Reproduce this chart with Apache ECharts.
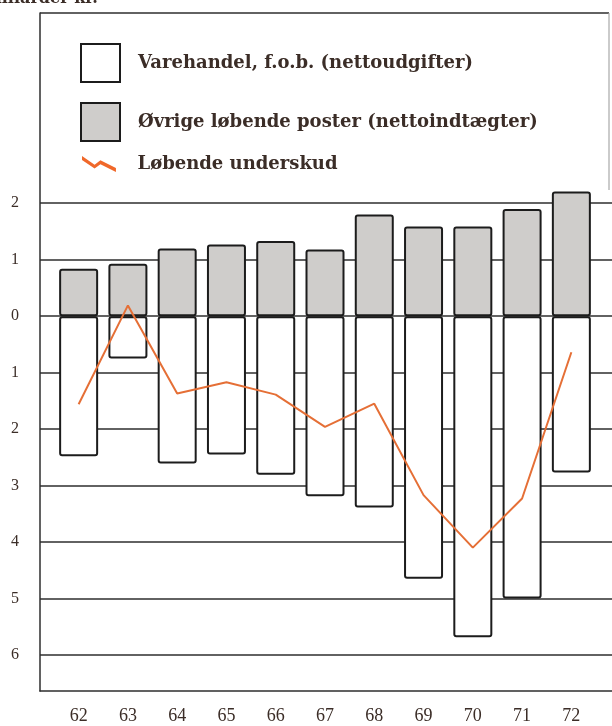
<!DOCTYPE html>
<html lang="da">
<head>
<meta charset="utf-8">
<title>Betalingsbalance</title>
<script src="https://cdn.jsdelivr.net/npm/echarts@6/dist/echarts.min.js"></script>
<style>
  html, body { margin: 0; padding: 0; background: #fff; }
  #chart { width: 612px; height: 726px; }
</style>
</head>
<body>
<div id="chart"></div>
<script>
// aflæste værdier, milliarder kr.
var years = ['62', '63', '64', '65', '66', '67', '68', '69', '70', '71', '72'];
var varehandel = [-2.48, -0.75, -2.61, -2.45, -2.81, -3.19, -3.39, -4.65, -5.69, -5.00, -2.77];
var ovrige = [0.84, 0.93, 1.20, 1.27, 1.33, 1.18, 1.80, 1.59, 1.59, 1.90, 2.21];
var underskud = [-1.56, 0.19, -1.37, -1.17, -1.39, -1.96, -1.55, -3.17, -4.10, -3.23, -0.64];
var yTicks = [2, 1, 0, -1, -2, -3, -4, -5, -6];

var Y_MIN = -6.64, Y_MAX = 5.37;
var ink = '#2e2e2e';
var textCol = '#3b2d27';
var serif = '"Liberation Serif", "DejaVu Serif", serif';
var boldSerif = '"DejaVu Serif", serif';

var chart = echarts.init(document.getElementById('chart'));

chart.setOption({
  animation: false,
  backgroundColor: '#fff',
  // grid 0: ramme, gitterlinjer og y-tal; grid 1: søjlerne
  grid: [
    { left: 40, right: 0, top: 13, bottom: 35 },
    { left: 54, right: 16, top: 13, bottom: 35 }
  ],
  legend: [
    {
      orient: 'vertical',
      left: 80,
      top: 43,
      padding: 0,
      itemWidth: 39,
      itemHeight: 38,
      itemGap: 19,
      data: [
        { name: 'Varehandel, f.o.b. (nettoudgifter)', icon: 'rect' },
        { name: 'Øvrige løbende poster (nettoindtægter)', icon: 'rect' }
      ],
      textStyle: { fontFamily: boldSerif, fontWeight: 'bold', fontSize: 18, color: textCol, padding: [0, 0, 0, 13] }
    },
    {
      left: 82,
      top: 155,
      padding: 0,
      itemWidth: 35,
      itemHeight: 16,
      data: [{
        name: 'Løbende underskud',
        icon: 'path://M0,0 L13,9 L19,4.5 L35,12.5 L35,16.5 L19,8.5 L13,13 L0,4 Z'
      }],
      textStyle: { fontFamily: boldSerif, fontWeight: 'bold', fontSize: 18, color: textCol, padding: [0, 0, 0, 16] }
    }
  ],
  graphic: [
    {
      type: 'text',
      left: -22,
      top: -9,
      style: { text: 'Milliarder kr.', font: 'bold 16px ' + boldSerif, fill: textCol }
    },
    {
      type: 'line',
      shape: { x1: 40, y1: 13, x2: 609, y2: 13 },
      style: { stroke: ink, lineWidth: 1.5 }
    },
    {
      type: 'line',
      shape: { x1: 609, y1: 13, x2: 609, y2: 190 },
      style: { stroke: '#a8a8a8', lineWidth: 1.2 }
    }
  ],
  xAxis: [
    {
      type: 'value',
      gridIndex: 0,
      min: 0,
      max: 1,
      axisLine: { show: true, onZero: false, lineStyle: { color: ink, width: 1.5 } },
      axisTick: { show: false },
      axisLabel: { show: false },
      splitLine: { show: false }
    },
    {
      type: 'category',
      gridIndex: 1,
      data: years,
      axisLine: { show: false },
      axisTick: { show: false },
      axisLabel: { margin: 16, fontFamily: serif, fontSize: 18, color: textCol }
    }
  ],
  yAxis: [
    {
      type: 'value',
      gridIndex: 0,
      min: Y_MIN,
      max: Y_MAX,
      axisLine: { show: true, onZero: false, lineStyle: { color: ink, width: 1.5 } },
      axisTick: { show: false, customValues: yTicks },
      axisLabel: {
        customValues: yTicks,
        margin: 25,
        align: 'center',
        fontFamily: serif,
        fontSize: 16,
        color: textCol,
        formatter: function (v) { return String(Math.abs(v)); }
      },
      splitLine: { show: true, lineStyle: { color: ink, width: 1.5 } }
    },
    {
      type: 'value',
      gridIndex: 1,
      min: Y_MIN,
      max: Y_MAX,
      show: false,
      splitLine: { show: false }
    }
  ],
  series: [
    {
      name: 'Varehandel, f.o.b. (nettoudgifter)',
      type: 'bar',
      xAxisIndex: 1,
      yAxisIndex: 1,
      data: varehandel,
      barWidth: 39,
      barGap: '-100%',
      clip: false,
      itemStyle: { color: '#ffffff', borderColor: '#1c1c1c', borderWidth: 2, borderRadius: 2 }
    },
    {
      name: 'Øvrige løbende poster (nettoindtægter)',
      type: 'bar',
      xAxisIndex: 1,
      yAxisIndex: 1,
      data: ovrige,
      barWidth: 39,
      barGap: '-100%',
      clip: false,
      itemStyle: { color: '#cfcdcb', borderColor: '#1c1c1c', borderWidth: 2, borderRadius: 2 }
    },
    {
      name: 'Løbende underskud',
      type: 'line',
      xAxisIndex: 1,
      yAxisIndex: 1,
      data: underskud,
      symbol: 'none',
      z: 5,
      itemStyle: { color: '#f0682a' },
      lineStyle: { color: '#e56f36', width: 2 }
    }
  ]
});
</script>
</body>
</html>
